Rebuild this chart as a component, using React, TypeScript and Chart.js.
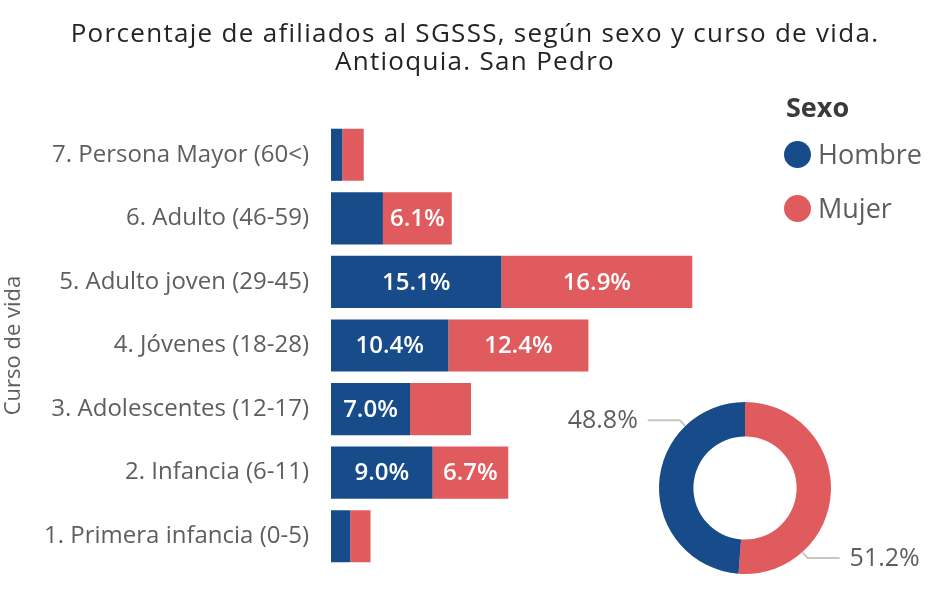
import React, { useEffect, useRef } from "react";
import { Chart, registerables } from "chart.js";

Chart.register(...registerables);

const titleLines = [
  "Porcentaje de afiliados al SGSSS, según sexo y curso de vida.",
  "Antioquia. San Pedro",
];
const categories = [
  "7. Persona Mayor (60<)",
  "6. Adulto (46-59)",
  "5. Adulto joven (29-45)",
  "4. Jóvenes (18-28)",
  "3. Adolescentes (12-17)",
  "2. Infancia (6-11)",
  "1. Primera infancia (0-5)",
];
const seriesNames = ["Hombre", "Mujer"];
const hombre = [1.0, 4.6, 15.1, 10.4, 7.0, 9.0, 1.7];
const mujer = [1.9, 6.1, 16.9, 12.4, 5.4, 6.7, 1.8];
const donutLabels = ["Mujer", "Hombre"];
const donutValues = [51.2, 48.8];

const BLUE = "#174B89";
const RED = "#E05B5D";
const FONT = "'Open Sans', 'Noto Sans', sans-serif";
const GRAY = "#605E5C";
const DARK = "#252423";

const barLabelPlugin = {
  id: "barLabels",
  afterDatasetsDraw(chart: any) {
    const ctx = chart.ctx;
    ctx.save();
    ctx.fillStyle = "#FFFFFF";
    ctx.font = `600 24px ${FONT}`;
    ctx.textAlign = "center";
    ctx.textBaseline = "middle";
    chart.data.datasets.forEach((ds: any, di: number) => {
      const meta = chart.getDatasetMeta(di);
      meta.data.forEach((el: any, i: number) => {
        const v = ds.data[i];
        if (v >= 6) {
          ctx.fillText(v.toFixed(1) + "%", (el.x + el.base) / 2, el.y + 1);
        }
      });
    });
    ctx.restore();
  },
};

const donutLabelPlugin = {
  id: "donutLabels",
  afterDatasetsDraw(chart: any) {
    const ctx = chart.ctx;
    const meta = chart.getDatasetMeta(0);
    const vals = chart.data.datasets[0].data;
    ctx.save();
    meta.data.forEach((arc: any, i: number) => {
      const a = arc.startAngle + 0.75 * (arc.endAngle - arc.startAngle);
      const R = arc.outerRadius;
      const px = arc.x + R * Math.cos(a);
      const py = arc.y + R * Math.sin(a);
      const ex = arc.x + (R + 8) * Math.cos(a);
      const ey = arc.y + (R + 8) * Math.sin(a);
      const dir = Math.cos(a) < 0 ? -1 : 1;
      const hx = ex + dir * 32;
      ctx.strokeStyle = "#C8C6C4";
      ctx.lineWidth = 2;
      ctx.beginPath();
      ctx.moveTo(px, py);
      ctx.lineTo(ex, ey);
      ctx.lineTo(hx, ey);
      ctx.stroke();
      ctx.fillStyle = GRAY;
      ctx.font = `25px ${FONT}`;
      ctx.textBaseline = "middle";
      ctx.textAlign = dir < 0 ? "right" : "left";
      ctx.fillText(vals[i].toFixed(1) + "%", hx + dir * 10, ey + 1);
    });
    ctx.restore();
  },
};

export default function App() {
  const barRef = useRef<HTMLCanvasElement>(null);
  const donutRef = useRef<HTMLCanvasElement>(null);

  useEffect(() => {
    const bar = new Chart(barRef.current!, {
      type: "bar",
      data: {
        labels: categories,
        datasets: [
          { label: seriesNames[0], data: hombre, backgroundColor: BLUE, borderWidth: 0, barPercentage: 0.82, categoryPercentage: 1 },
          { label: seriesNames[1], data: mujer, backgroundColor: RED, borderWidth: 0, barPercentage: 0.82, categoryPercentage: 1 },
        ],
      },
      options: {
        indexAxis: "y",
        responsive: false,
        animation: false,
        layout: { padding: { left: 0, right: 176, top: 123, bottom: 31 } },
        plugins: {
          legend: { display: false },
          tooltip: { enabled: false },
          title: { display: false },
        },
        scales: {
          x: { stacked: true, min: 0, max: 38, display: false },
          y: {
            stacked: true,
            grid: { display: false, drawTicks: false },
            border: { display: false },
            ticks: { color: GRAY, font: { family: FONT, size: 24 }, padding: 22 },
            title: {
              display: true,
              text: "Curso de vida",
              color: GRAY,
              font: { family: FONT, size: 22 },
              padding: { top: 1, bottom: 0 },
            },
            afterFit: (s: any) => {
              s.width = 331;
              s.paddingTop = 0;
              s.paddingBottom = 0;
            },
          },
        },
      },
      plugins: [barLabelPlugin],
    } as any);

    const donut = new Chart(donutRef.current!, {
      type: "doughnut",
      data: {
        labels: donutLabels,
        datasets: [{ data: donutValues, backgroundColor: [RED, BLUE], borderWidth: 0 }],
      },
      options: {
        responsive: false,
        animation: false,
        cutout: "60%",
        rotation: 0,
        layout: { padding: { left: 99, right: 105, top: 22, bottom: 25 } },
        plugins: { legend: { display: false }, tooltip: { enabled: false } },
      },
      plugins: [donutLabelPlugin],
    } as any);

    return () => {
      bar.destroy();
      donut.destroy();
    };
  }, []);

  return (
    <div style={{ position: "absolute", left: 0, top: 0, width: 936, height: 599, background: "#fff", overflow: "hidden", fontFamily: FONT }}>
      <canvas ref={barRef} width={936} height={599} style={{ position: "absolute", left: 0, top: 0 }} />
      <canvas ref={donutRef} width={376} height={219} style={{ position: "absolute", left: 560, top: 380 }} />
      <div style={{ position: "absolute", left: 0, top: 18, width: 950, textAlign: "center", fontSize: 26, fontWeight: 500, letterSpacing: "1.3px", color: DARK, lineHeight: "28px", whiteSpace: "nowrap" }}>
        {titleLines.map((t) => (
          <div key={t}>{t}</div>
        ))}
      </div>
      <div style={{ position: "absolute", left: 786, top: 91, fontSize: 27, fontWeight: 700, color: "#3B3A39", lineHeight: "32px" }}>Sexo</div>
      {seriesNames.map((n, i) => (
        <div key={n} style={{ position: "absolute", left: 784, top: 138 + i * 54, height: 32, display: "flex", alignItems: "center", fontSize: 27, color: GRAY, lineHeight: "32px" }}>
          <span style={{ display: "inline-block", width: 27, height: 27, borderRadius: 14, background: i === 0 ? BLUE : RED, marginRight: 7 }} />
          {n}
        </div>
      ))}
    </div>
  );
}
